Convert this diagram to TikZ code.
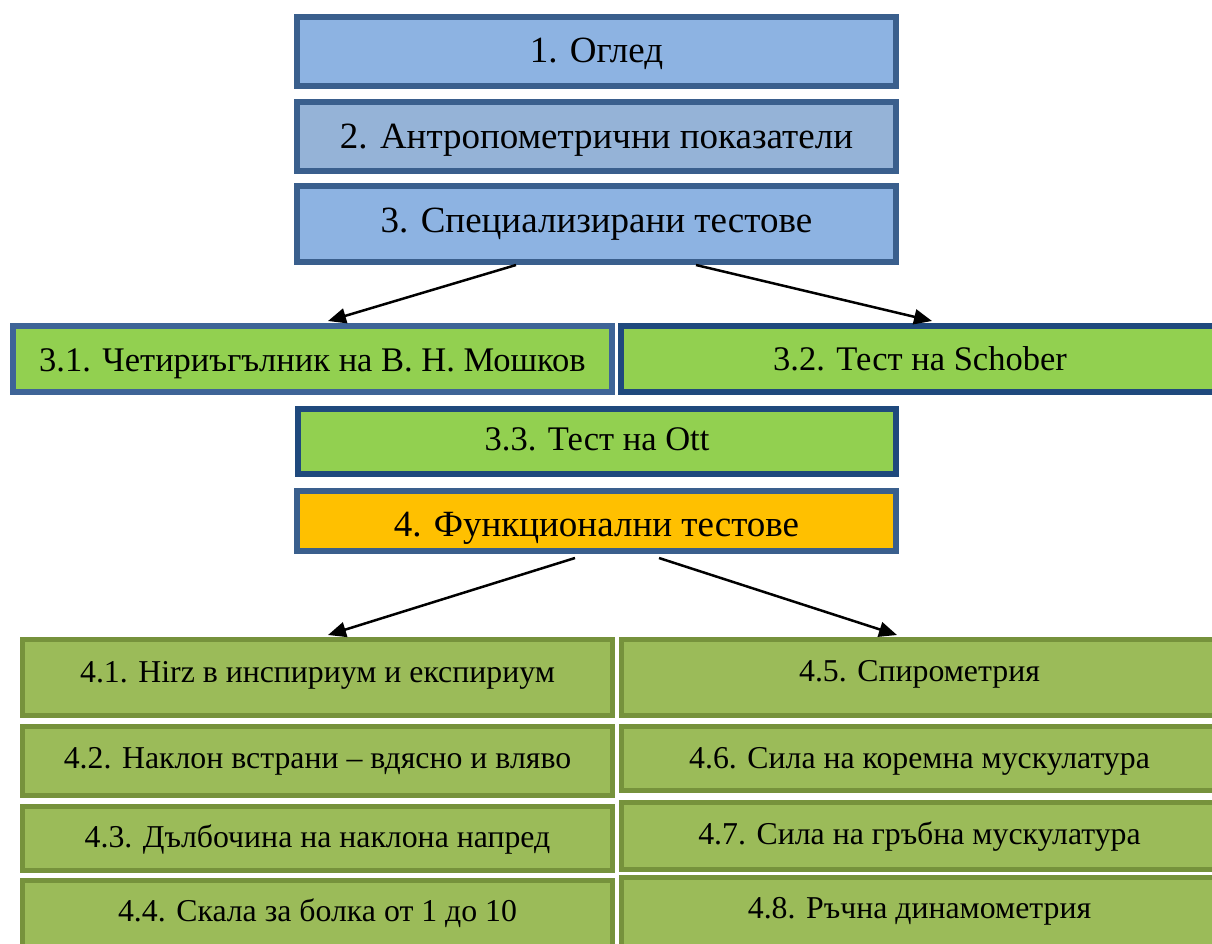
\documentclass[tikz,border=0pt]{standalone}
\usepackage{fontspec}
\setmainfont{Liberation Serif}
\usetikzlibrary{arrows.meta}
\definecolor{bluefill}{HTML}{8DB3E2}
\definecolor{bluefillb}{HTML}{95B3D7}
\definecolor{blueline}{HTML}{3A5F8D}
\definecolor{navyline}{HTML}{1F497D}
\definecolor{midline}{HTML}{3E6497}
\definecolor{greenfill}{HTML}{92D050}
\definecolor{olivefill}{HTML}{9BBB59}
\definecolor{oliveline}{HTML}{76923C}
\definecolor{orangefill}{HTML}{FFC000}
\tikzset{
  topbox/.style={draw=blueline, line width=6pt, fill=bluefill, inner sep=0pt,
    text depth=0pt, minimum width=599pt, font=\fontsize{37}{41}\selectfont},
  midbox/.style={draw=navyline, line width=6pt, fill=greenfill, inner sep=0pt,
    text depth=0pt, font=\fontsize{34.5}{38}\selectfont},
  lowbox/.style={draw=oliveline, line width=5pt, fill=olivefill, inner sep=0pt,
    text depth=0pt, font=\fontsize{31.8}{35}\selectfont},
  arr/.style={line width=2.5pt, -{Triangle[length=18pt,width=15pt]}}
}
\begin{document}
\begin{tikzpicture}[x=1pt,y=-1pt]
\useasboundingbox (0,0) rectangle (1212,944);
\clip (0,0) rectangle (1212,944);
% top column
\node[topbox, minimum height=69pt, text height=23pt] (n1) at (596.5,51.5) {1. Оглед};
\node[topbox, fill=bluefillb, minimum height=69pt, text height=23.6pt] (n2) at (596.5,136.5) {2. Антропометрични показатели};
\node[topbox, minimum height=76pt, text height=16pt] (n3) at (596.5,224) {3. Специализирани тестове};
% middle
\node[midbox, draw=midline, minimum width=599pt, minimum height=66pt, text height=25.4pt] (n31) at (312.5,359) {3.1. Четириъгълник на В. Н. Мошков};
\node[midbox, minimum width=598pt, minimum height=66pt, text height=23.4pt] (n32) at (920,359) {3.2. Тест на Schober};
\node[midbox, minimum width=598pt, minimum height=65pt, text height=18.4pt] (n33) at (597,441.5) {3.3. Тест на Ott};
\node[midbox, draw=blueline, fill=orangefill, minimum width=599pt, minimum height=60pt,
  text height=31pt, font=\fontsize{37}{41}\selectfont] (n4) at (596.5,521) {4. Функционални тестове};
% lower
\node[lowbox, minimum width=590pt, minimum height=76pt, text height=10.4pt] (n41) at (317.5,677.5) {4.1. Hirz в инспириум и експириум};
\node[lowbox, minimum width=590pt, minimum height=69pt, text height=14.6pt] (n42) at (317.5,761) {4.2. Наклон встрани – вдясно и вляво};
\node[lowbox, minimum width=590pt, minimum height=64pt, text height=17pt] (n43) at (317.5,838.5) {4.3. Дълбочина на наклона напред};
\node[lowbox, minimum width=590pt, minimum height=67pt, text height=15.4pt] (n44) at (317.5,914) {4.4. Скала за болка от 1 до 10};
\node[lowbox, minimum width=596pt, minimum height=76pt, text height=8.4pt] (n45) at (919.5,677.5) {4.5. Спирометрия};
\node[lowbox, minimum width=596pt, minimum height=64pt, text height=19pt] (n46) at (919.5,758.5) {4.6. Сила на коремна мускулатура};
\node[lowbox, minimum width=596pt, minimum height=67pt, text height=16pt] (n47) at (919.5,836) {4.7. Сила на гръбна мускулатура};
\node[lowbox, minimum width=596pt, minimum height=70pt, text height=11pt] (n48) at (919.5,912.5) {4.8. Ръчна динамометрия};
% arrows
\draw[arr] ([xshift=-80.5pt]n3.south) -- ([xshift=15.5pt,yshift=2pt]n31.north);
\draw[arr] ([xshift=99.5pt]n3.south) -- ([xshift=12pt,yshift=2pt]n32.north);
\draw[arr] ([xshift=-21.5pt,yshift=-4pt]n4.south) -- ([xshift=10.5pt,yshift=2pt]n41.north);
\draw[arr] ([xshift=62.5pt,yshift=-4pt]n4.south) -- ([xshift=-22.5pt,yshift=2pt]n45.north);
\end{tikzpicture}
\end{document}
